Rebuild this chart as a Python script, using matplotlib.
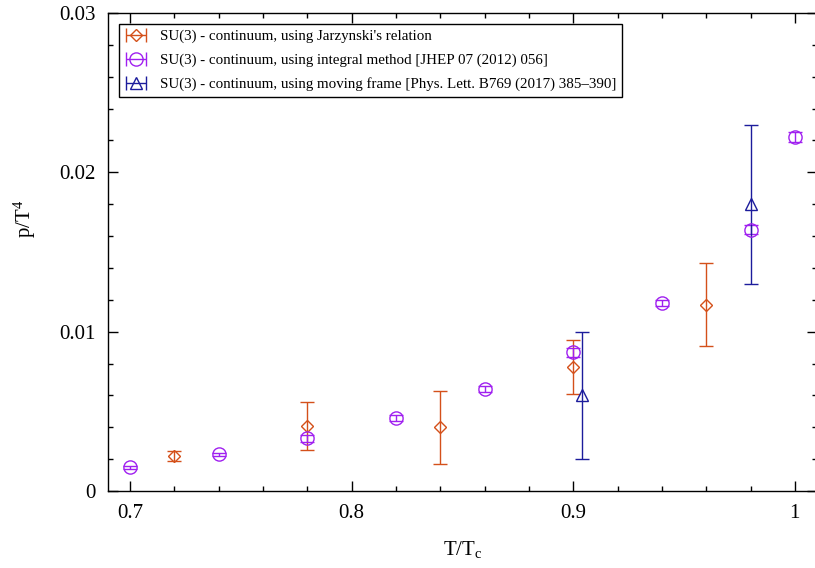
import numpy as np
import matplotlib
matplotlib.use('Agg')
import matplotlib.pyplot as plt
from matplotlib.ticker import MultipleLocator, FuncFormatter
from matplotlib.container import ErrorbarContainer
from matplotlib.legend_handler import HandlerErrorbar

plt.rcParams['font.family'] = ['Liberation Serif', 'DejaVu Serif']
plt.rcParams['mathtext.fontset'] = 'custom'
plt.rcParams['mathtext.rm'] = 'Liberation Serif'
plt.rcParams['mathtext.it'] = 'Liberation Serif:italic'

# Jarzynski
tj = [0.72, 0.78, 0.84, 0.90, 0.96]
pj = [0.0022, 0.0041, 0.0040, 0.0078, 0.0117]
ej = [0.0003, 0.0015, 0.0023, 0.0017, 0.0026]

# integral method
ti = [0.70, 0.74, 0.78, 0.82, 0.86, 0.90, 0.94, 0.98, 1.00]
pi_ = [0.0015, 0.0023, 0.0033, 0.0046, 0.0064, 0.0087, 0.0118, 0.0164, 0.0222]
ei = [0.0001, 0.0001, 0.0002, 0.0002, 0.0002, 0.0003, 0.0002, 0.0003, 0.0003]

# moving frame
tm = [0.904, 0.98]
pm = [0.006, 0.018]
em = [0.004, 0.005]

labels = ["SU(3) - continuum, using Jarzynski's relation",
          "SU(3) - continuum, using integral method [JHEP 07 (2012) 056]",
          "SU(3) - continuum, using moving frame [Phys. Lett. B769 (2017) 385\u2013390]"]

c_or = '#d4501a'
c_pu = '#a020f0'
c_bl = '#1c1c9c'

fig = plt.figure(figsize=(8.15, 5.68), dpi=100)
ax = fig.add_axes([108/815, 77/568, 709/815, 478/568])

kw = dict(linestyle='none', markerfacecolor='none', capsize=5, elinewidth=1.0, capthick=1.0, markeredgewidth=1.0)
ax.errorbar(tj, pj, yerr=ej, marker='D', markersize=6.5, color=c_or, **kw)
ax.errorbar(ti, pi_, yerr=ei, marker='o', markersize=9.5, color=c_pu, **kw)
ax.errorbar(tm, pm, yerr=em, marker='^', markersize=8.5, color=c_bl, **kw)

# proxies for gnuplot-like legend keys (horizontal bars)
nan = [np.nan]
h1 = ax.errorbar(nan, nan, xerr=nan, marker='D', markersize=6.5, color=c_or, **kw)
h2 = ax.errorbar(nan, nan, xerr=nan, marker='o', markersize=9.5, color=c_pu, **kw)
h3 = ax.errorbar(nan, nan, xerr=nan, marker='^', markersize=8.5, color=c_bl, **kw)

leg = ax.legend([h1, h2, h3], labels, loc='upper left', fontsize=10.8,
                handler_map={ErrorbarContainer: HandlerErrorbar(xerr_size=0.65)},
                fancybox=False, edgecolor='black', framealpha=1,
                borderaxespad=0.7, labelspacing=0.68, handlelength=1.5,
                handletextpad=0.85, borderpad=0.4)
leg.get_frame().set_linewidth(1.0)

ax.set_xlim(0.69, 1.01)
ax.set_ylim(0, 0.03)
ax.xaxis.set_major_locator(MultipleLocator(0.1))
ax.xaxis.set_minor_locator(MultipleLocator(0.02))
ax.yaxis.set_major_locator(MultipleLocator(0.01))
ax.yaxis.set_minor_locator(MultipleLocator(0.002))
fmt = FuncFormatter(lambda v, p: '%g' % round(v, 4))
ax.xaxis.set_major_formatter(fmt)
ax.yaxis.set_major_formatter(fmt)
ax.tick_params(which='both', direction='in', top=True, right=True, labelsize=15, pad=9)
ax.tick_params(which='major', length=7, width=1)
ax.tick_params(which='minor', length=3.5, width=1)
for s in ax.spines.values():
    s.set_linewidth(1.0)

ax.set_xlabel('T/T$_\\mathrm{c}$', fontsize=15, labelpad=12)
ax.set_ylabel('p/T$^4$', fontsize=15)
ax.yaxis.set_label_coords(-0.099, 0.57)

fig.savefig('out.png', dpi=100)
